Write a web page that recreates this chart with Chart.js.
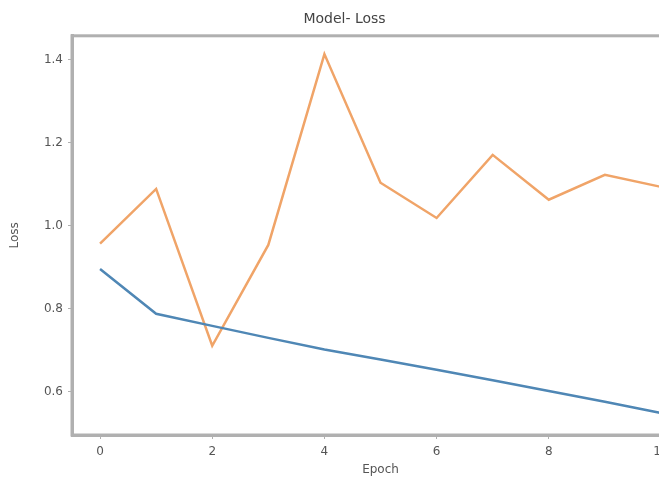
<!DOCTYPE html>
<html lang="en">
<head>
    <meta charset="UTF-8">
    <title>Model Loss</title>
    <script src="https://cdn.jsdelivr.net/npm/chart.js@4/dist/chart.umd.min.js"></script>
    <style>
        html, body { margin: 0; padding: 0; background: #fff; overflow: hidden; }
        .wrap { width: 690px; height: 481px; }
    </style>
</head>
<body>
    <div class="wrap">
        <canvas id="lossChart" width="690" height="481"></canvas>
    </div>

    <script>
        // values
        const epochs = [0, 1, 2, 3, 4, 5, 6, 7, 8, 9, 10];
        const trainLoss = [0.896, 0.788, 0.759, 0.730, 0.702, 0.678, 0.653, 0.628, 0.602, 0.576, 0.549];
        const valLoss = [0.957, 1.089, 0.711, 0.954, 1.414, 1.104, 1.019, 1.171, 1.063, 1.123, 1.094];
        const xTicks = [0, 2, 4, 6, 8, 10];
        const yTicks = [0.6, 0.8, 1.0, 1.2, 1.4];

        const axisColor = "#b0b0b0";
        const textColor = "#555";

        // box around the plot area (matplotlib spines)
        const frame = {
            id: "frame",
            afterDraw(chart) {
                const a = chart.chartArea, ctx = chart.ctx;
                ctx.save();
                ctx.strokeStyle = axisColor;
                ctx.lineWidth = 3;
                ctx.strokeRect(a.left, a.top, a.right - a.left, a.bottom - a.top);
                ctx.restore();
            }
        };

        new Chart("lossChart", {
            type: "line",
            data: {
                datasets: [
                    {
                        label: "train",
                        data: epochs.map((e, i) => ({ x: e, y: trainLoss[i] })),
                        borderColor: "#4f87b5",
                        borderWidth: 2.5,
                        pointRadius: 0,
                        tension: 0
                    },
                    {
                        label: "val",
                        data: epochs.map((e, i) => ({ x: e, y: valLoss[i] })),
                        borderColor: "#f0a468",
                        borderWidth: 2.5,
                        pointRadius: 0,
                        tension: 0
                    }
                ]
            },
            plugins: [frame],
            options: {
                responsive: false,
                animation: false,
                layout: { padding: { left: 0, right: 1, top: 0, bottom: 0 } },
                plugins: {
                    legend: { display: false },
                    tooltip: { enabled: false },
                    title: {
                        display: true,
                        text: "Model- Loss",
                        color: "#444",
                        font: { family: "DejaVu Sans", size: 14, weight: "normal" },
                        padding: { top: 11, bottom: 8 }
                    }
                },
                scales: {
                    x: {
                        type: "linear",
                        min: -0.5,
                        max: 10.5,
                        afterBuildTicks: s => { s.ticks = xTicks.map(v => ({ value: v })); },
                        afterFit: s => { s.height = 46; },
                        grid: { drawOnChartArea: false, drawTicks: true, tickLength: 4, color: axisColor },
                        border: { color: axisColor, width: 3 },
                        ticks: { color: textColor, font: { family: "DejaVu Sans", size: 12 }, padding: 6, maxRotation: 0 },
                        title: { display: true, text: "Epoch", color: textColor, font: { family: "DejaVu Sans", size: 12 }, padding: { top: 2 } }
                    },
                    y: {
                        min: 0.496,
                        max: 1.458,
                        afterBuildTicks: s => { s.ticks = yTicks.map(v => ({ value: v })); },
                        afterFit: s => { s.width = 72; },
                        grid: { drawOnChartArea: false, drawTicks: true, tickLength: 4, color: axisColor },
                        border: { color: axisColor, width: 3 },
                        ticks: {
                            color: textColor,
                            font: { family: "DejaVu Sans", size: 12 },
                            padding: 5,
                            callback: v => v.toFixed(1)
                        },
                        title: { display: true, text: "Loss", color: textColor, font: { family: "DejaVu Sans", size: 12 }, padding: { top: 8, bottom: 4 } }
                    }
                }
            }
        });
    </script>
</body>
</html>
